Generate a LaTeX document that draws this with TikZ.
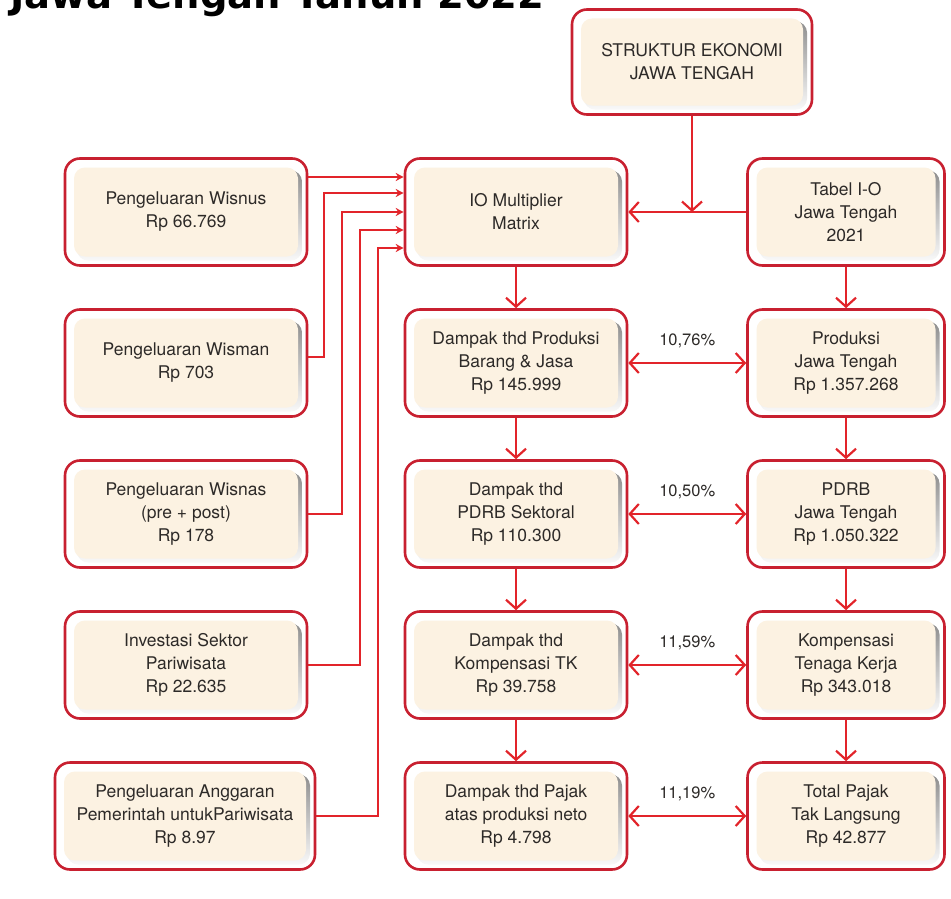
\documentclass[tikz,border=0pt]{standalone}
\usepackage{fontspec}
\setmainfont{TeX Gyre Heros}
\newfontfamily\titlefont{DejaVu Sans}
\usepackage{tikz}
\usetikzlibrary{arrows,arrows.meta,calc,positioning}
\definecolor{boxred}{RGB}{200,32,48}
\definecolor{linkred}{RGB}{226,36,42}
\definecolor{cream}{RGB}{252,242,226}
\definecolor{shade}{RGB}{208,206,204}
\definecolor{ink}{RGB}{45,42,40}

\begin{document}
\begin{tikzpicture}[x=1pt,y=-1pt,
	box/.style={draw=boxred,line width=2.6pt,rounded corners=15pt,fill=white,align=center,text=ink,
		font=\fontsize{17.5}{23}\selectfont,minimum height=107pt,
		path picture={
			\fill[shade,rounded corners=11pt] ([xshift=12pt,yshift=-12pt]path picture bounding box.north west) rectangle ([xshift=-5pt,yshift=5pt]path picture bounding box.south east);
			\fill[cream,rounded corners=11pt] ([xshift=9pt,yshift=-9pt]path picture bounding box.north west) rectangle ([xshift=-9pt,yshift=9pt]path picture bounding box.south east);
		}},
	link/.style={draw=linkred,line width=2.2pt,-{Straight Barb[length=9pt,width=20pt,line width=2.2pt]}},
	both/.style={link,{Straight Barb[length=9pt,width=20pt,line width=2.2pt]}-{Straight Barb[length=9pt,width=20pt,line width=2.2pt]}},
	feed/.style={draw=linkred,line width=2pt,-{Stealth[length=8pt,width=8pt]}},
	pct/.style={text=ink,font=\fontsize{16.5}{20}\selectfont}]
		\useasboundingbox (0,0) rectangle (951,899);
		\node[anchor=base west,inner sep=0pt,font=\titlefont\bfseries\fontsize{38.5}{40}\selectfont] (title) at (10,9) {Jawa Tengah Tahun 2022};
		\node[box,minimum width=240pt,minimum height=105pt] (top) at (692,62) {STRUKTUR EKONOMI\\JAWA TENGAH};
		\node[box,minimum width=242pt] (L1) at (186,212) {Pengeluaran Wisnus\\Rp 66.769};
		\node[box,minimum width=242pt] (L2) at (186,363) {Pengeluaran Wisman\\Rp 703};
		\node[box,minimum width=242pt] (L3) at (186,514) {Pengeluaran Wisnas\\(pre + post)\\Rp 178};
		\node[box,minimum width=242pt] (L4) at (186,665) {Investasi Sektor\\Pariwisata\\Rp 22.635};
		\node[box,minimum width=260pt] (L5) at (185,816) {Pengeluaran Anggaran\\Pemerintah untukPariwisata\\Rp 8.97};
		\node[box,minimum width=222pt] (M0) at (516,212) {IO Multiplier\\Matrix};
		\node[box,minimum width=222pt] (M1) at (516,363) {Dampak thd Produksi\\Barang \& Jasa\\Rp 145.999};
		\node[box,minimum width=222pt] (M2) at (516,514) {Dampak thd\\PDRB Sektoral\\Rp 110.300};
		\node[box,minimum width=222pt] (M3) at (516,665) {Dampak thd\\Kompensasi TK\\Rp 39.758};
		\node[box,minimum width=222pt] (M4) at (516,816) {Dampak thd Pajak\\atas produksi neto\\Rp 4.798};
		\node[box,minimum width=197pt] (R0) at (846,212) {Tabel I-O\\Jawa Tengah\\2021};
		\node[box,minimum width=197pt] (R1) at (846,363) {Produksi\\Jawa Tengah\\Rp 1.357.268};
		\node[box,minimum width=197pt] (R2) at (846,514) {PDRB\\Jawa Tengah\\Rp 1.050.322};
		\node[box,minimum width=197pt] (R3) at (846,665) {Kompensasi\\Tenaga Kerja\\Rp 343.018};
		\node[box,minimum width=197pt] (R4) at (846,816) {Total Pajak\\Tak Langsung\\Rp 42.877};
		\draw[link] (top) -- (top |- R0.west);
		\draw[link] (R0) -- (M0);
		\draw[link] (M0) -- (M1);
		\draw[link] (M1) -- (M2);
		\draw[link] (M2) -- (M3);
		\draw[link] (M3) -- (M4);
		\draw[link] (R0) -- (R1);
		\draw[link] (R1) -- (R2);
		\draw[link] (R2) -- (R3);
		\draw[link] (R3) -- (R4);
		\draw[both] (M1) -- (R1) node[pct,midway,above=11pt] (p1) {10,76\%};
		\draw[both] (M2) -- (R2) node[pct,midway,above=11pt] (p2) {10,50\%};
		\draw[both] (M3) -- (R3) node[pct,midway,above=11pt] (p3) {11,59\%};
		\draw[both] (M4) -- (R4) node[pct,midway,above=11pt] (p4) {11,19\%};
		\coordinate (in1) at ([yshift=35pt]M0.west);
		\coordinate (in2) at ([yshift=19pt]M0.west);
		\coordinate (in3) at (M0.west);
		\coordinate (in4) at ([yshift=-18pt]M0.west);
		\coordinate (in5) at ([yshift=-36pt]M0.west);
		\draw[feed] (L1.east |- in1) -- (in1);
		\draw[feed] ([yshift=6pt]L2.east) -- ++(16,0) |- (in2);
		\draw[feed] (L3.east) -- ++(34,0) |- (in3);
		\draw[feed] (L4.east) -- ++(52,0) |- (in4);
		\draw[feed] (L5.east) -- ++(62,0) |- (in5);
\end{tikzpicture}
\end{document}
